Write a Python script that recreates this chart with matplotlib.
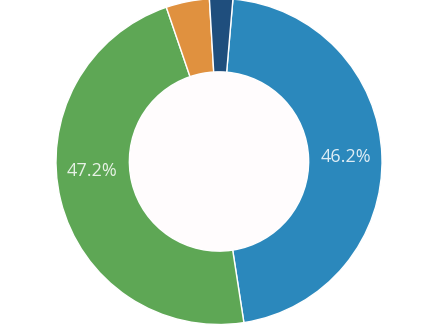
import matplotlib
matplotlib.use("Agg")
import matplotlib.pyplot as plt
import numpy as np

categories = ["A", "B", "C", "D"]
values = [46.2, 47.2, 4.3, 2.3]
colors = ["#2b88bc", "#5ea755", "#e0913f", "#1f4e7d"]

fig = plt.figure(figsize=(4.43, 3.30), dpi=100)
fig.patch.set_facecolor("white")
ax = fig.add_axes([56 / 443, 5.5 / 330, 326 / 443, 326 / 330])

wedges, _ = ax.pie(
    values,
    colors=colors,
    startangle=85.1,
    counterclock=False,
    radius=1.0,
    wedgeprops=dict(width=0.45, edgecolor="white", linewidth=1.0),
)
ax.add_patch(plt.Circle((0, 0), 0.55, color="#fffcfd", zorder=0))

# label placement tweak (degrees) per slice index, to mimic the source layout
label_angle_shift = [0.0, -9.5, 0.0, 0.0]

total = sum(values)
for i, (w, v) in enumerate(zip(wedges, values)):
    if v / total < 0.1:
        continue
    ang = np.deg2rad((w.theta1 + w.theta2) / 2 + label_angle_shift[i])
    r = 0.78
    ax.text(r * np.cos(ang), r * np.sin(ang), f"{v:.1f}%",
            ha="center", va="center", color="white", alpha=0.85,
            fontsize=13, family=["Open Sans", "DejaVu Sans"])

ax.set_xlim(-1, 1)
ax.set_ylim(-1, 1)
ax.axis("off")
fig.savefig("out.png", dpi=100, facecolor="white")
